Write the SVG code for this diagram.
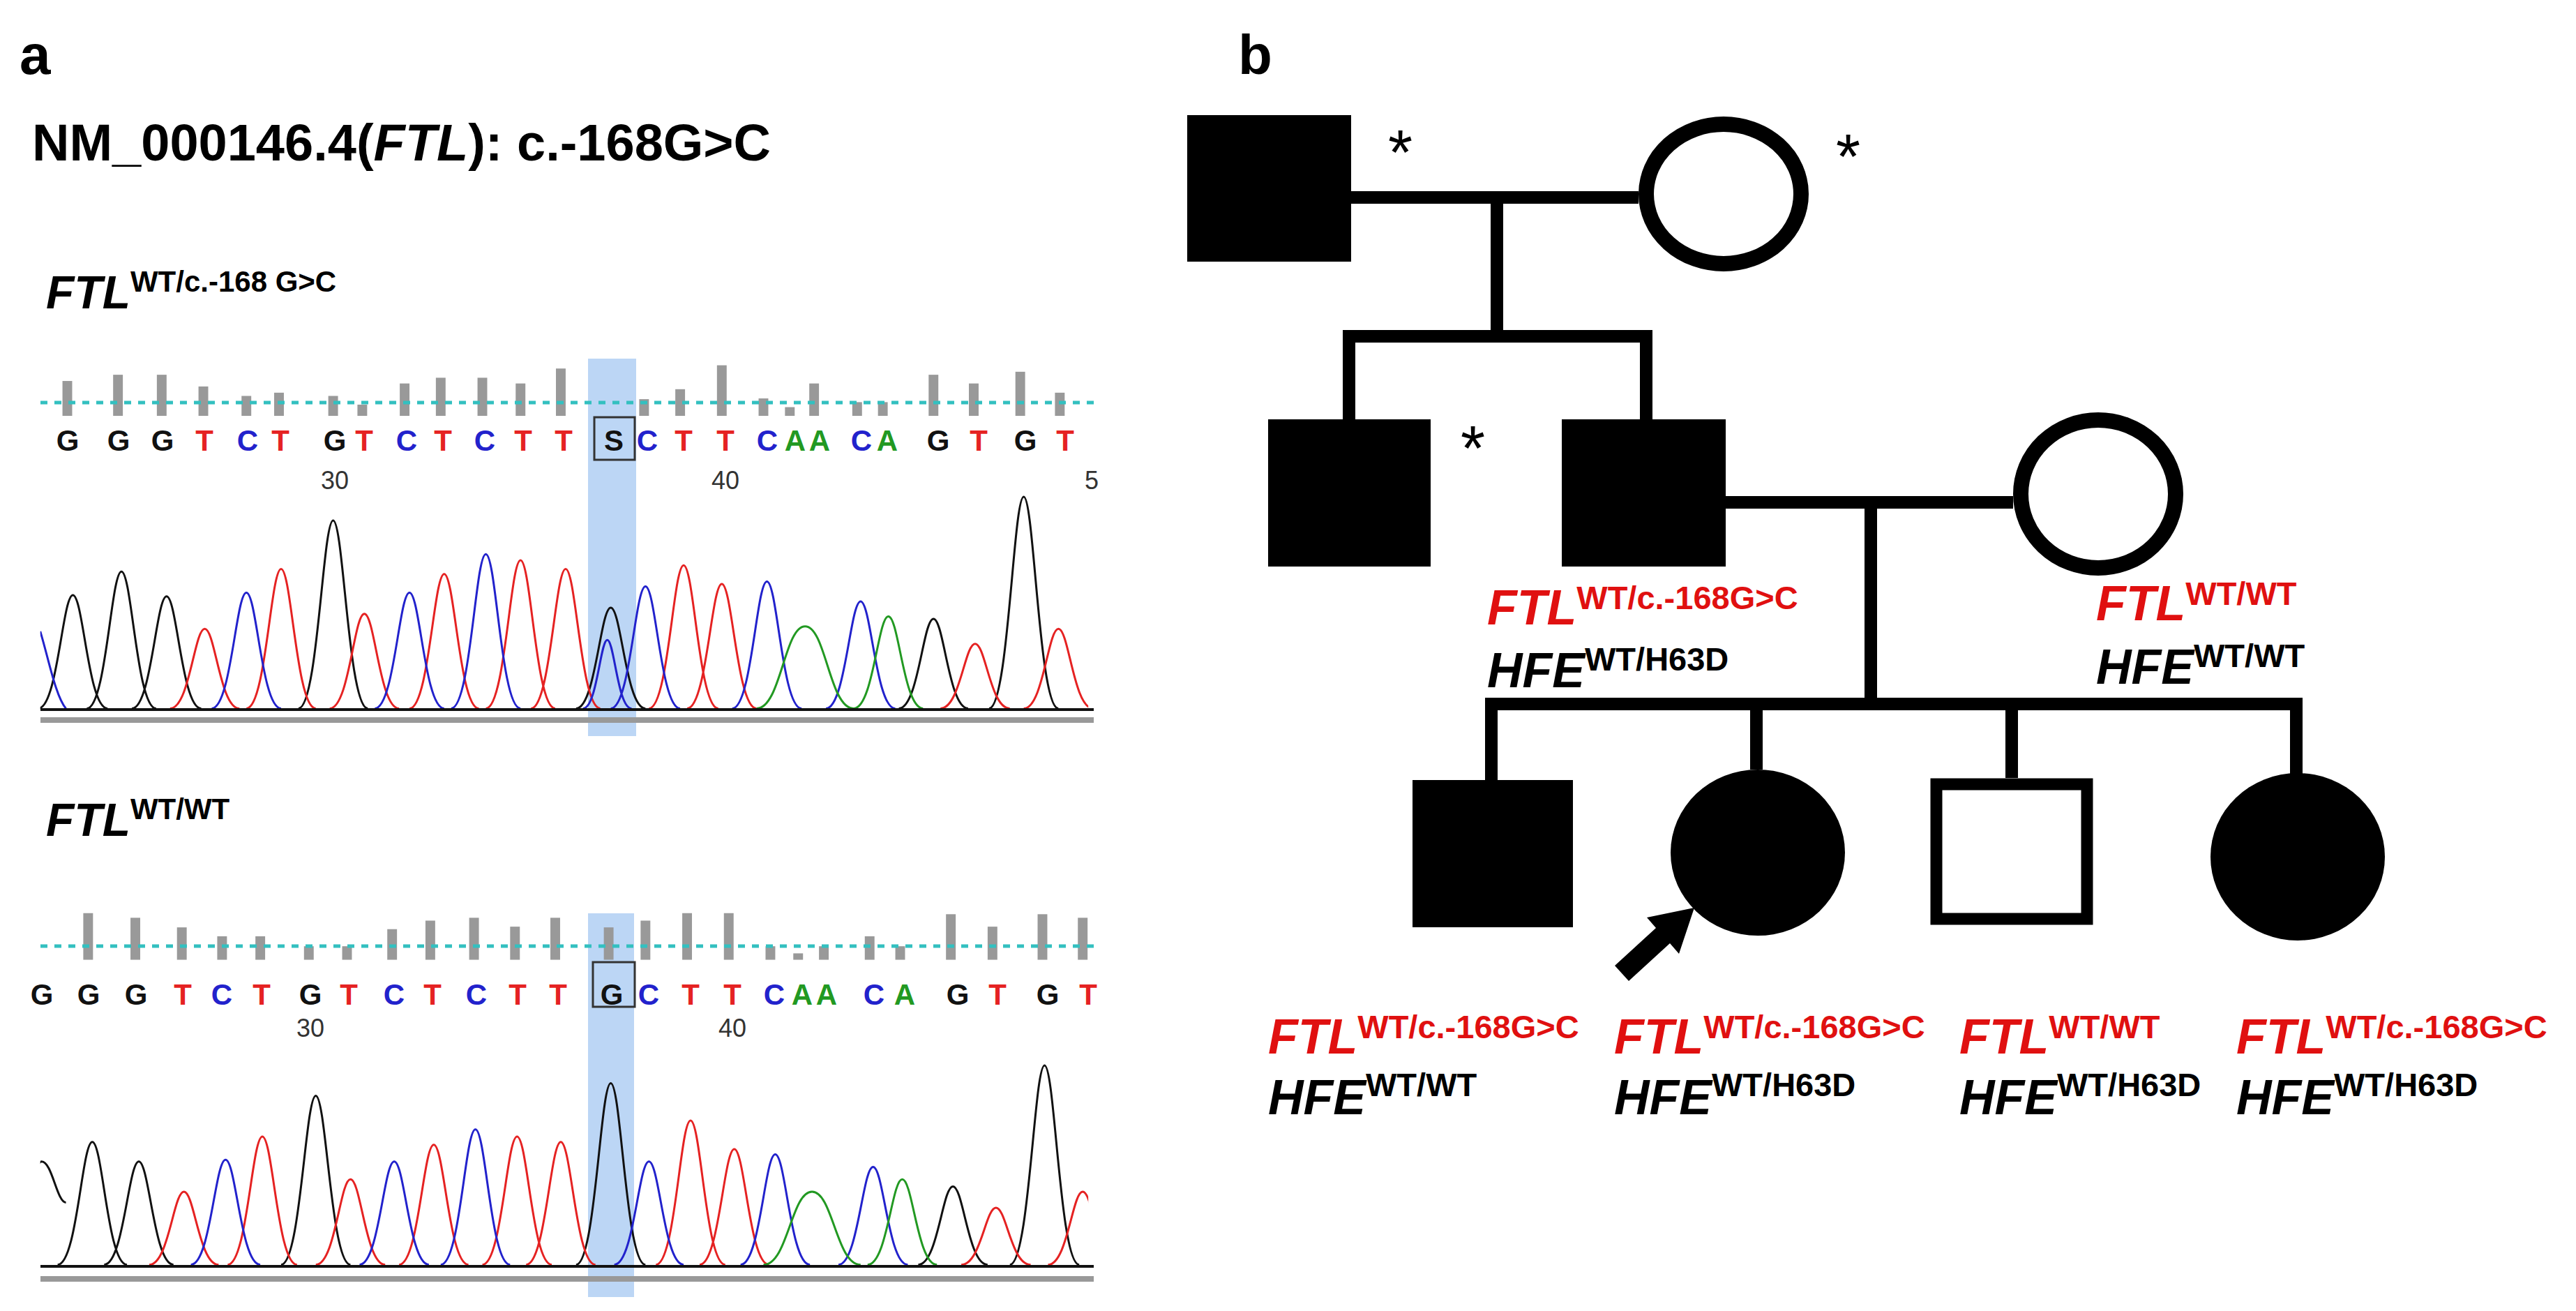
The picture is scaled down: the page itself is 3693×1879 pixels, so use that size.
<svg xmlns="http://www.w3.org/2000/svg" width="3693" height="1879" viewBox="0 0 3693 1879">
<style>
text{font-family:"Liberation Sans",Arial,sans-serif;font-weight:bold}
.it{font-style:italic}
.red{fill:#e01010}
.base{font-weight:normal;font-size:42px;text-anchor:middle}
.num{font-weight:normal;font-size:36px;fill:#333;text-anchor:middle}
.k{fill:#111}.r{fill:#e52222}.b{fill:#2222cc}.g{fill:#229922}
.tr{fill:none;stroke-width:3;vector-effect:non-scaling-stroke}
.ln{stroke:#000;stroke-width:18;fill:none}
.bar{fill:#999}
.sym{fill:#000}
.open{fill:#fff;stroke:#000;stroke-width:22}
.ast{font-size:90px;font-weight:normal}
</style>
<defs>
<clipPath id="cp"><rect x="58" y="0" width="1510" height="1600"/></clipPath>
</defs>
<rect width="3693" height="1879" fill="#fff"/>
<text x="28" y="106" font-size="80">a</text>
<text x="46" y="230" font-size="74">NM_000146.4(<tspan class="it">FTL</tspan>): c.-168G&gt;C</text>
<text x="66" y="442" font-size="66" class="it">FTL<tspan font-size="42" font-style="normal" dy="-24">WT/c.-168 G&gt;C</tspan></text>
<text x="66" y="1198" font-size="66" class="it">FTL<tspan font-size="42" font-style="normal" dy="-24">WT/WT</tspan></text>

<!-- panel 1 -->
<rect x="843" y="514" width="69" height="541" fill="#bcd6f5"/>
<g transform="translate(0,480) scale(0.995,0.357)">
<g class="bar">
<rect x="90" y="185" width="14" height="140"/><rect x="163" y="160" width="14" height="165"/><rect x="226" y="160" width="14" height="165"/><rect x="286" y="207" width="14" height="118"/><rect x="348" y="245" width="14" height="80"/><rect x="395" y="232" width="14" height="93"/><rect x="473" y="245" width="14" height="80"/><rect x="515" y="280" width="14" height="45"/><rect x="576" y="195" width="14" height="130"/><rect x="628" y="172" width="14" height="153"/><rect x="688" y="172" width="14" height="153"/><rect x="743" y="195" width="14" height="130"/><rect x="801" y="135" width="14" height="190"/><rect x="921" y="258" width="14" height="67"/><rect x="973" y="218" width="14" height="107"/><rect x="1033" y="122" width="14" height="203"/><rect x="1093" y="255" width="14" height="70"/><rect x="1131" y="290" width="14" height="35"/><rect x="1166" y="195" width="14" height="130"/><rect x="1228" y="270" width="14" height="55"/><rect x="1265" y="270" width="14" height="55"/><rect x="1338" y="160" width="14" height="165"/><rect x="1396" y="195" width="14" height="130"/><rect x="1463" y="148" width="14" height="177"/><rect x="1520" y="232" width="14" height="93"/>
</g>
<g clip-path="url(#cp)">
<path class="tr" stroke="#111" d="M55,1500 C83,1500 90,1045 105,1045 S127,1500 155,1500 M125,1500 C153,1500 160,950 175,950 S197,1500 225,1500 M190,1500 C218,1500 225,1050 240,1050 S262,1500 290,1500 M430,1500 C458,1500 465,745 480,745 S502,1500 530,1500 M830,1500 C858,1500 865,1095 880,1095 S902,1500 930,1500 M1295,1500 C1323,1500 1330,1140 1345,1140 S1367,1500 1395,1500 M1425,1500 C1453,1500 1460,650 1475,650 S1497,1500 1525,1500"/>
<path class="tr" stroke="#e52222" d="M245,1500 C273,1500 280,1180 295,1180 S317,1500 345,1500 M355,1500 C383,1500 390,940 405,940 S427,1500 455,1500 M475,1500 C503,1500 510,1120 525,1120 S547,1500 575,1500 M590,1500 C618,1500 625,960 640,960 S662,1500 690,1500 M700,1500 C728,1500 735,905 750,905 S772,1500 800,1500 M765,1500 C793,1500 800,940 815,940 S837,1500 865,1500 M935,1500 C963,1500 970,925 985,925 S1007,1500 1035,1500 M990,1500 C1018,1500 1025,1000 1040,1000 S1062,1500 1090,1500 M1355,1500 C1383,1500 1390,1240 1405,1240 S1427,1500 1455,1500 M1475,1500 C1503,1500 1510,1180 1525,1180 S1547,1500 1575,1500"/>
<path class="tr" stroke="#2222cc" d="M58,1190 C70,1300 80,1450 95,1500 M305,1500 C333,1500 340,1035 355,1035 S377,1500 405,1500 M540,1500 C568,1500 575,1035 590,1035 S612,1500 640,1500 M650,1500 C678,1500 685,880 700,880 S722,1500 750,1500 M840,1500 C860,1500 865,1225 875,1225 S890,1500 910,1500 M880,1500 C908,1500 915,1010 930,1010 S952,1500 980,1500 M1055,1500 C1083,1500 1090,990 1105,990 S1127,1500 1155,1500 M1190,1500 C1218,1500 1225,1070 1240,1070 S1262,1500 1290,1500"/>
<path class="tr" stroke="#229922" d="M1090,1500 C1125,1500 1130,1170 1160,1170 S1195,1500 1230,1500 M1230,1500 C1258,1500 1265,1130 1280,1130 S1302,1500 1330,1500"/>
</g>
</g>
<line x1="58" y1="577" x2="1568" y2="577" stroke="#33c0c0" stroke-width="5" stroke-dasharray="10,10"/>
<line x1="58" y1="1017" x2="1568" y2="1017" stroke="#111" stroke-width="4"/>
<line x1="58" y1="1032" x2="1568" y2="1032" stroke="#999" stroke-width="8"/>
<rect x="852" y="598" width="58" height="61" fill="none" stroke="#333" stroke-width="3"/>
<g class="base">
<text x="97" y="646" class="k">G</text><text x="170" y="646" class="k">G</text><text x="233" y="646" class="k">G</text><text x="293" y="646" class="r">T</text><text x="355" y="646" class="b">C</text><text x="402" y="646" class="r">T</text><text x="480" y="646" class="k">G</text><text x="522" y="646" class="r">T</text><text x="583" y="646" class="b">C</text><text x="635" y="646" class="r">T</text><text x="695" y="646" class="b">C</text><text x="750" y="646" class="r">T</text><text x="808" y="646" class="r">T</text><text x="880" y="646" class="k">S</text><text x="928" y="646" class="b">C</text><text x="980" y="646" class="r">T</text><text x="1040" y="646" class="r">T</text><text x="1100" y="646" class="b">C</text><text x="1140" y="646" class="g">A</text><text x="1175" y="646" class="g">A</text><text x="1235" y="646" class="b">C</text><text x="1272" y="646" class="g">A</text><text x="1345" y="646" class="k">G</text><text x="1403" y="646" class="r">T</text><text x="1470" y="646" class="k">G</text><text x="1527" y="646" class="r">T</text>
</g>
<text x="480" y="701" class="num">30</text><text x="1040" y="701" class="num">40</text><text x="1565" y="701" class="num">5</text>

<!-- panel 2 -->
<rect x="843" y="1309" width="66" height="550" fill="#bcd6f5"/>
<g transform="translate(0,1040) scale(0.995,0.51)">
<g class="bar">
<rect x="120" y="527" width="14" height="131"/><rect x="188" y="540" width="14" height="118"/><rect x="255" y="567" width="14" height="91"/><rect x="313" y="592" width="14" height="66"/><rect x="368" y="592" width="14" height="66"/><rect x="438" y="620" width="14" height="38"/><rect x="493" y="620" width="14" height="38"/><rect x="558" y="572" width="14" height="86"/><rect x="613" y="548" width="14" height="110"/><rect x="676" y="540" width="14" height="118"/><rect x="735" y="565" width="14" height="93"/><rect x="793" y="540" width="14" height="118"/><rect x="870" y="567" width="14" height="91"/><rect x="923" y="548" width="14" height="110"/><rect x="983" y="527" width="14" height="131"/><rect x="1043" y="527" width="14" height="131"/><rect x="1103" y="620" width="14" height="38"/><rect x="1143" y="640" width="14" height="18"/><rect x="1180" y="620" width="14" height="38"/><rect x="1246" y="592" width="14" height="66"/><rect x="1290" y="620" width="14" height="38"/><rect x="1363" y="530" width="14" height="128"/><rect x="1423" y="565" width="14" height="93"/><rect x="1495" y="530" width="14" height="128"/><rect x="1553" y="540" width="14" height="118"/>
</g>
<g clip-path="url(#cp)">
<path class="tr" stroke="#111" d="M20,1515 C38,1515 45,1225 60,1225 S82,1340 95,1340 M83,1515 C111,1515 118,1170 133,1170 S155,1515 183,1515 M150,1515 C178,1515 185,1225 200,1225 S222,1515 250,1515 M405,1515 C433,1515 440,1040 455,1040 S477,1515 505,1515 M830,1515 C858,1515 865,1005 880,1005 S902,1515 930,1515 M1323,1515 C1351,1515 1358,1295 1373,1295 S1395,1515 1423,1515 M1455,1515 C1483,1515 1490,955 1505,955 S1527,1515 1555,1515"/>
<path class="tr" stroke="#e52222" d="M215,1515 C243,1515 250,1310 265,1310 S287,1515 315,1515 M328,1515 C356,1515 363,1155 378,1155 S400,1515 428,1515 M455,1515 C483,1515 490,1275 505,1275 S527,1515 555,1515 M575,1515 C603,1515 610,1178 625,1178 S647,1515 675,1515 M695,1515 C723,1515 730,1155 745,1155 S767,1515 795,1515 M758,1515 C786,1515 793,1170 808,1170 S830,1515 858,1515 M945,1515 C973,1515 980,1110 995,1110 S1017,1515 1045,1515 M1008,1515 C1036,1515 1043,1190 1058,1190 S1080,1515 1108,1515 M1385,1515 C1413,1515 1420,1355 1435,1355 S1457,1515 1485,1515 M1510,1515 C1538,1515 1545,1310 1560,1310 S1582,1515 1610,1515"/>
<path class="tr" stroke="#2222cc" d="M275,1515 C303,1515 310,1220 325,1220 S347,1515 375,1515 M518,1515 C546,1515 553,1225 568,1225 S590,1515 618,1515 M635,1515 C663,1515 670,1135 685,1135 S707,1515 735,1515 M885,1515 C913,1515 920,1225 935,1225 S957,1515 985,1515 M1067,1515 C1095,1515 1102,1205 1117,1205 S1139,1515 1167,1515 M1208,1515 C1236,1515 1243,1240 1258,1240 S1280,1515 1308,1515"/>
<path class="tr" stroke="#229922" d="M1100,1515 C1135,1515 1140,1310 1170,1310 S1205,1515 1240,1515 M1250,1515 C1278,1515 1285,1275 1300,1275 S1322,1515 1350,1515"/>
</g>
</g>
<line x1="58" y1="1356" x2="1568" y2="1356" stroke="#33c0c0" stroke-width="5" stroke-dasharray="10,10"/>
<line x1="58" y1="1815" x2="1568" y2="1815" stroke="#111" stroke-width="4"/>
<line x1="58" y1="1833" x2="1568" y2="1833" stroke="#999" stroke-width="8"/>
<rect x="850" y="1379" width="60" height="64" fill="none" stroke="#333" stroke-width="3"/>
<g class="base">
<text x="60" y="1440" class="k">G</text><text x="127" y="1440" class="k">G</text><text x="195" y="1440" class="k">G</text><text x="262" y="1440" class="r">T</text><text x="318" y="1440" class="b">C</text><text x="375" y="1440" class="r">T</text><text x="445" y="1440" class="k">G</text><text x="500" y="1440" class="r">T</text><text x="565" y="1440" class="b">C</text><text x="620" y="1440" class="r">T</text><text x="683" y="1440" class="b">C</text><text x="742" y="1440" class="r">T</text><text x="800" y="1440" class="r">T</text><text x="877" y="1440" class="k">G</text><text x="930" y="1440" class="b">C</text><text x="990" y="1440" class="r">T</text><text x="1050" y="1440" class="r">T</text><text x="1110" y="1440" class="b">C</text><text x="1150" y="1440" class="g">A</text><text x="1185" y="1440" class="g">A</text><text x="1253" y="1440" class="b">C</text><text x="1297" y="1440" class="g">A</text><text x="1373" y="1440" class="k">G</text><text x="1430" y="1440" class="r">T</text><text x="1502" y="1440" class="k">G</text><text x="1560" y="1440" class="r">T</text>
</g>
<text x="445" y="1486" class="num">30</text><text x="1050" y="1486" class="num">40</text>

<!-- panel b: pedigree -->
<text x="1775" y="106" font-size="80">b</text>
<g id="connectors">
<path class="ln" d="M1937,283 H2349 M2146,283 V482 M1925,482 H2369 M1934,482 V601 M2360,482 V601 M2474,720 H2886 M2682,720 V1009 M2129,1009 H3301 M2138,1009 V1118 M2518,1009 V1103 M2884,1009 V1115 M3292,1009 V1109"/>
</g>
<g id="I1"><rect class="sym" x="1702" y="165" width="235" height="210"/><text x="1990" y="250" class="ast">*</text></g>
<g id="I2"><ellipse class="open" cx="2471" cy="278" rx="111" ry="100"/><text x="2632" y="256" class="ast">*</text></g>
<g id="II1"><rect class="sym" x="1818" y="601" width="233" height="211"/><text x="2094" y="674" class="ast">*</text></g>
<g id="II2"><rect class="sym" x="2239" y="601" width="235" height="211"/>
<text x="2132" y="895" font-size="70" class="it red">FTL<tspan font-size="47" font-style="normal" dy="-22">WT/c.-168G&gt;C</tspan></text>
<text x="2132" y="985" font-size="70" class="it">HFE<tspan font-size="47" font-style="normal" dy="-24">WT/H63D</tspan></text></g>
<g id="II3"><ellipse class="open" cx="3008" cy="708" rx="111" ry="106"/>
<text x="3005" y="889" font-size="70" class="it red">FTL<tspan font-size="47" font-style="normal" dy="-22">WT/WT</tspan></text>
<text x="3005" y="980" font-size="70" class="it">HFE<tspan font-size="47" font-style="normal" dy="-24">WT/WT</tspan></text></g>
<g id="III1"><rect class="sym" x="2025" y="1118" width="230" height="211"/>
<text x="1818" y="1510" font-size="70" class="it red">FTL<tspan font-size="47" font-style="normal" dy="-22">WT/c.-168G&gt;C</tspan></text>
<text x="1818" y="1597" font-size="70" class="it">HFE<tspan font-size="47" font-style="normal" dy="-26">WT/WT</tspan></text></g>
<g id="III2"><ellipse class="sym" cx="2520" cy="1222" rx="125" ry="119"/>
<polygon class="sym" points="2429,1301 2407,1367 2394,1352 2335,1406 2315,1384 2374,1330 2361,1315"/>
<text x="2314" y="1510" font-size="70" class="it red">FTL<tspan font-size="47" font-style="normal" dy="-22">WT/c.-168G&gt;C</tspan></text>
<text x="2314" y="1597" font-size="70" class="it">HFE<tspan font-size="47" font-style="normal" dy="-26">WT/H63D</tspan></text></g>
<g id="III3"><rect x="2776" y="1124" width="216" height="193" fill="#fff" stroke="#000" stroke-width="17"/>
<text x="2809" y="1510" font-size="70" class="it red">FTL<tspan font-size="47" font-style="normal" dy="-22">WT/WT</tspan></text>
<text x="2809" y="1597" font-size="70" class="it">HFE<tspan font-size="47" font-style="normal" dy="-26">WT/H63D</tspan></text></g>
<g id="III4"><ellipse class="sym" cx="3294" cy="1228" rx="125" ry="120"/>
<text x="3206" y="1510" font-size="70" class="it red">FTL<tspan font-size="47" font-style="normal" dy="-22">WT/c.-168G&gt;C</tspan></text>
<text x="3206" y="1597" font-size="70" class="it">HFE<tspan font-size="47" font-style="normal" dy="-26">WT/H63D</tspan></text></g>
</svg>
